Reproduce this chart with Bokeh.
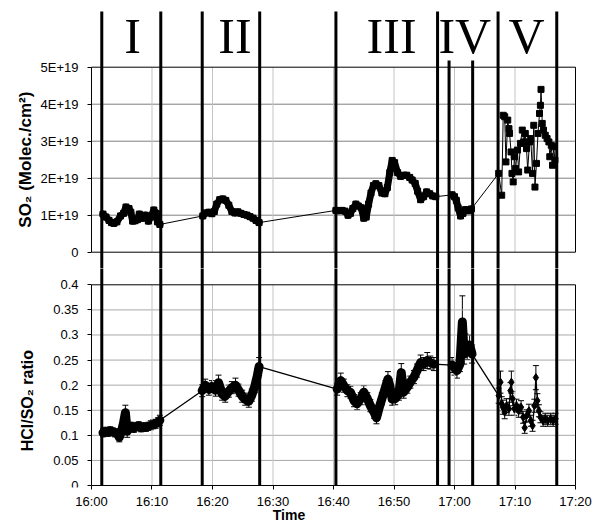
import numpy as np
from bokeh.plotting import figure
from bokeh.layouts import column
from bokeh.models import (ColumnDataSource, Range1d, FixedTicker, CustomJSTickFormatter,
                          Whisker, TeeHead, Label)
from bokeh.core.properties import value
from bokeh.embed import file_html
from bokeh.resources import INLINE

# ---------------- data (time = minutes after 16:00) ----------------
# SO2 column (units of 1E+19 molec/cm2)
so2_t_I = [1.9, 2.4, 2.9, 3.3, 3.7, 4.2, 4.8, 5.3, 5.7, 6.2, 6.5, 6.8, 7.2, 7.6, 7.9, 8.4, 8.9, 9.4, 9.8, 10.3, 10.7, 10.9, 11.3]
so2_I = [1.03, 0.95, 0.86, 0.80, 0.78, 0.82, 0.98, 1.05, 1.22, 1.18, 1.08, 0.84, 0.85, 0.88, 1.03, 0.92, 1.00, 0.84, 0.95, 1.14, 1.05, 0.82, 0.75]
so2_t_II = [18.4, 18.9, 19.4, 19.9, 20.3, 20.7, 21.2, 21.7, 22.2, 22.7, 23.2, 23.7, 24.2, 24.7, 25.2, 25.7, 26.2, 26.7, 27.2, 27.7]
so2_II = [0.98, 1.06, 1.08, 1.04, 1.10, 1.30, 1.42, 1.44, 1.40, 1.27, 1.10, 1.06, 1.09, 1.05, 1.02, 1.00, 0.96, 0.92, 0.86, 0.80]
so2_t_III = [40.4, 40.9, 41.4, 41.9, 42.4, 42.8, 43.2, 43.7, 44.1, 44.6, 45.0, 45.4, 45.8, 46.2, 46.6, 47.0, 47.5, 48.0, 48.5, 48.9,
             49.3, 49.7, 50.1, 50.6, 51.1, 51.6, 52.1, 52.6, 53.0, 53.5, 53.9, 54.4, 54.9, 55.4, 55.9, 56.4, 56.9]
so2_III = [1.13, 1.12, 1.13, 1.11, 1.00, 1.05, 1.18, 1.30, 1.25, 1.20, 0.92, 0.95, 1.30, 1.60, 1.80, 1.85, 1.80, 1.60, 1.58, 1.75,
           2.15, 2.48, 2.42, 2.15, 2.05, 2.08, 2.08, 2.02, 1.95, 1.86, 1.65, 1.42, 1.50, 1.63, 1.58, 1.52, 1.50]
so2_t_IV = [59.6, 60.0, 60.3, 60.6, 61.0, 61.4, 61.8, 62.3, 62.8]
so2_IV = [1.55, 1.50, 1.40, 1.20, 0.98, 1.05, 1.15, 1.12, 1.17]
so2_t_V = [67.3, 67.8, 68.05, 68.3, 68.5, 68.8, 69.0, 69.1, 69.35, 69.5, 69.7, 69.9, 70.1, 70.4, 70.6, 70.9, 71.2, 71.45, 71.7, 71.9,
           72.1, 72.4, 72.6, 72.9, 73.1, 73.3, 73.55, 73.8, 74.05, 74.2, 74.3, 74.5, 74.7, 75.0, 75.3, 75.6, 75.75, 76.0, 76.2, 76.4, 76.6]
so2_V = [2.13, 1.54, 3.70, 3.66, 2.44, 3.57, 3.34, 3.21, 2.71, 2.13, 1.90, 2.58, 2.26, 2.76, 2.17, 2.94, 3.30, 2.98, 3.21, 2.80,
         2.22, 2.98, 3.07, 2.13, 3.43, 1.76, 2.40, 3.21, 3.75, 3.97, 4.40, 3.48, 3.30, 3.16, 3.07, 2.98, 2.58, 2.89, 2.35, 2.85, 2.49]

# HCl/SO2 ratio with its error
ratio_t_I = [1.9, 2.3, 2.7, 3.1, 3.5, 3.9, 4.3, 4.6, 5.0, 5.3, 5.6, 5.9, 6.2, 6.6, 7.0, 7.4, 7.8, 8.2, 8.6, 9.0, 9.4, 9.8, 10.2, 10.6, 11.0, 11.3]
ratio_I = [0.105, 0.108, 0.106, 0.109, 0.107, 0.105, 0.104, 0.096, 0.110, 0.125, 0.145, 0.108, 0.116, 0.118, 0.114, 0.117, 0.119, 0.115, 0.117, 0.116, 0.118, 0.120, 0.122, 0.123, 0.126, 0.130]
ratio_err_I = [0.008, 0.008, 0.008, 0.008, 0.008, 0.008, 0.008, 0.009, 0.008, 0.010, 0.015, 0.012, 0.008, 0.008, 0.008, 0.008, 0.008, 0.008, 0.008, 0.008, 0.008, 0.009, 0.009, 0.009, 0.009, 0.010]
ratio_t_II = [18.3, 18.8, 19.4, 19.9, 20.5, 21.0, 21.6, 22.1, 22.7, 23.2, 23.8, 24.3, 24.9, 25.4, 26.0, 26.5, 27.0, 27.4, 27.7]
ratio_II = [0.189, 0.200, 0.192, 0.197, 0.190, 0.205, 0.182, 0.178, 0.188, 0.195, 0.200, 0.190, 0.178, 0.172, 0.168, 0.180, 0.198, 0.218, 0.237]
ratio_err_II = [0.012, 0.012, 0.012, 0.012, 0.012, 0.015, 0.012, 0.012, 0.012, 0.012, 0.014, 0.012, 0.012, 0.012, 0.012, 0.012, 0.013, 0.015, 0.018]
ratio_t_III = [40.6, 41.2, 41.7, 42.3, 42.8, 43.4, 43.9, 44.5, 45.0, 45.6, 46.1, 46.7, 47.1, 47.5, 48.0, 48.6,
               49.0, 49.3, 49.7, 50.2, 50.8, 51.2, 51.6, 52.2, 52.7, 53.3, 53.8, 54.4, 54.9, 55.5, 56.0, 56.6]
ratio_III = [0.192, 0.209, 0.199, 0.189, 0.186, 0.169, 0.163, 0.173, 0.186, 0.173, 0.159, 0.146, 0.135, 0.153, 0.173, 0.196,
             0.212, 0.199, 0.172, 0.173, 0.182, 0.225, 0.186, 0.196, 0.206, 0.216, 0.229, 0.245, 0.242, 0.249, 0.245, 0.242]
ratio_err_III = [0.012, 0.015, 0.013, 0.012, 0.012, 0.012, 0.012, 0.012, 0.013, 0.012, 0.012, 0.012, 0.012, 0.012, 0.012, 0.013,
                 0.015, 0.013, 0.012, 0.012, 0.012, 0.018, 0.012, 0.012, 0.012, 0.013, 0.013, 0.015, 0.013, 0.016, 0.013, 0.013]
ratio_t_IV = [59.6, 60.0, 60.4, 60.9, 61.3, 61.6, 61.8, 62.1, 62.5, 62.9]
ratio_IV = [0.240, 0.235, 0.229, 0.242, 0.326, 0.262, 0.282, 0.269, 0.280, 0.262]
ratio_err_IV = [0.015, 0.015, 0.015, 0.015, 0.052, 0.020, 0.020, 0.018, 0.020, 0.018]
ratio_t_V = [67.3, 67.6, 67.8, 68.0, 68.3, 68.6, 69.0, 69.25, 69.4, 69.6, 69.9, 70.25, 70.6, 71.0, 71.35, 71.6,
             71.9, 72.3, 72.6, 72.9, 73.2, 73.45, 73.7, 73.95, 74.2, 74.65, 75.0, 75.4, 75.9, 76.3, 76.7]
ratio_V = [0.179, 0.206, 0.163, 0.156, 0.146, 0.159, 0.153, 0.189, 0.206, 0.173, 0.153, 0.159, 0.149, 0.156, 0.136, 0.115,
           0.139, 0.149, 0.129, 0.119, 0.159, 0.215, 0.169, 0.149, 0.136, 0.129, 0.133, 0.129, 0.133, 0.129, 0.133]
ratio_err_V = [0.015, 0.022, 0.014, 0.014, 0.013, 0.014, 0.013, 0.016, 0.022, 0.014, 0.013, 0.013, 0.013, 0.013, 0.012, 0.011,
               0.012, 0.013, 0.011, 0.011, 0.013, 0.024, 0.014, 0.012, 0.011, 0.011, 0.011, 0.011, 0.011, 0.011, 0.011]

# phase boundaries (minutes after 16:00) and labels
phase_bounds = [1.7, 11.45, 18.3, 27.8, 40.4, 57.2, 59.1, 63.0, 67.2, 76.9]
short_bounds = [59.1, 63.0]
phase_names = ["I", "II", "III", "IV", "V"]
phase_label_t = [6.8, 23.7, 49.6, 61.7, 71.9]

time_ticks = [0, 10, 20, 30, 40, 50, 60, 70, 80]
so2_ticks = [0, 1e19, 2e19, 3e19, 4e19, 5e19]
ratio_ticks = [0, 0.05, 0.1, 0.15, 0.2, 0.25, 0.3, 0.35, 0.4]

# ---------------- assemble ----------------
E19 = 1e19
so2_segs_t = [so2_t_I, so2_t_II, so2_t_III, so2_t_IV]
so2_segs_v = [so2_I, so2_II, so2_III, so2_IV]
so2_t = so2_t_I + so2_t_II + so2_t_III + so2_t_IV + so2_t_V
so2_v = np.array(so2_I + so2_II + so2_III + so2_IV + so2_V) * E19

r_segs_t = [ratio_t_I, ratio_t_II, ratio_t_III, ratio_t_IV]
r_segs_v = [ratio_I, ratio_II, ratio_III, ratio_IV]
r_t = ratio_t_I + ratio_t_II + ratio_t_III + ratio_t_IV + ratio_t_V
r_v = np.array(ratio_I + ratio_II + ratio_III + ratio_IV + ratio_V)
r_e = np.array(ratio_err_I + ratio_err_II + ratio_err_III + ratio_err_IV + ratio_err_V)

FONT = "Liberation Sans"
X_RANGE = (-15.041, 80.33)     # frame spans the full width; 16:00 sits at x = 91 px
TOP_Y = (-4.405e18, 6.505e19)
BOT_Y = (-0.004, 0.4325)

time_fmt = CustomJSTickFormatter(code="""
const m = Math.round(tick); const h = 16 + Math.floor(m/60); const mm = m % 60;
return h + ':' + (mm < 10 ? '0' : '') + mm;""")


def style_yaxis(ax, ticks, fmt):
    ax.fixed_location = 0
    ax.ticker = FixedTicker(ticks=ticks)
    ax.formatter = fmt
    ax.axis_line_color = None
    ax.major_tick_in = 0
    ax.major_tick_out = 4
    ax.major_tick_line_color = "black"
    ax.minor_tick_line_color = None
    ax.major_label_standoff = 9
    ax.major_label_text_font = FONT
    ax.major_label_text_font_size = "13px"
    ax.major_label_text_color = "black"


# ---------------- top panel ----------------
p1 = figure(width=601, height=268, output_backend="svg", toolbar_location=None,
            x_range=Range1d(*X_RANGE), y_range=Range1d(*TOP_Y), x_axis_location=None,
            min_border_left=0, min_border_right=24, min_border_top=11, min_border_bottom=0)
p1.grid.visible = False
p1.outline_line_color = None
style_yaxis(p1.yaxis[0], so2_ticks,
            CustomJSTickFormatter(code="return tick == 0 ? '0' : Math.round(tick/1e19) + 'E+19';"))

g_h = so2_ticks[1:-1]
p1.segment(x0=[0] * len(g_h), x1=[80] * len(g_h), y0=g_h, y1=g_h, line_color="#808080", line_width=1)
g_v = time_ticks[1:-1]
p1.segment(x0=g_v, x1=g_v, y0=[0] * len(g_v), y1=[5e19] * len(g_v), line_color="#c4c4c4", line_width=1)
p1.quad(left=[0], right=[80], bottom=[0], top=[5e19], fill_color=None, line_color="black", line_width=1)

p1.line(so2_t, so2_v, line_color="black", line_width=1)
for st, sv in zip(so2_segs_t, so2_segs_v):
    p1.line(st, np.array(sv) * E19, line_color="black", line_width=7, line_join="round", line_cap="round")
p1.scatter(so2_t, so2_v, marker="square", size=6, color="black")

top_of_line = [5.18e19 if b in short_bounds else 7e19 for b in phase_bounds]
p1.segment(x0=phase_bounds, x1=phase_bounds, y0=top_of_line, y1=[-1e19] * len(phase_bounds),
           line_color="black", line_width=3)

p1.text(x=phase_label_t, y=[5.83e19] * len(phase_names), text=phase_names,
        text_font=value("Liberation Serif"), text_font_size="50px", text_align="center",
        text_baseline="alphabetic", text_color="black")

p1.add_layout(Label(x=-10.9, y=2.5e19, text="SO₂ (Molec./cm²)", angle=np.pi / 2,
                    text_align="center", text_baseline="middle", text_font=FONT,
                    text_font_size="17px", text_font_style="bold", text_color="black"))

# ---------------- bottom panel ----------------
p2 = figure(width=601, height=262, output_backend="svg", toolbar_location=None,
            x_range=Range1d(*X_RANGE), y_range=Range1d(*BOT_Y),
            min_border_left=0, min_border_right=24, min_border_top=0, min_border_bottom=43)
p2.grid.visible = False
p2.outline_line_color = None
style_yaxis(p2.yaxis[0], ratio_ticks,
            CustomJSTickFormatter(code="return String(Math.round(tick*100)/100);"))

xa = p2.xaxis[0]
xa.ticker = FixedTicker(ticks=time_ticks)
xa.formatter = time_fmt
xa.axis_line_color = None
xa.major_tick_in = 2
xa.major_tick_out = 2
xa.major_tick_line_color = "black"
xa.minor_tick_line_color = None
xa.major_label_standoff = 4
xa.major_label_text_font = FONT
xa.major_label_text_font_size = "13px"
xa.major_label_text_color = "black"
xa.axis_label = "Time"
xa.axis_label_standoff = -5
xa.axis_label_text_font = FONT
xa.axis_label_text_font_size = "14px"
xa.axis_label_text_font_style = "bold"
xa.axis_label_text_color = "black"

gr_h = ratio_ticks[1:-1]
p2.segment(x0=[0] * len(gr_h), x1=[80] * len(gr_h), y0=gr_h, y1=gr_h, line_color="#a8a8a8", line_width=1)
p2.segment(x0=g_v, x1=g_v, y0=[0] * len(g_v), y1=[0.4] * len(g_v), line_color="#c4c4c4", line_width=1)
p2.quad(left=[0], right=[80], bottom=[0], top=[0.4], fill_color=None, line_color="black", line_width=1)

src = ColumnDataSource(dict(t=r_t, r=r_v, lo=r_v - r_e, hi=r_v + r_e))
p2.add_layout(Whisker(source=src, base="t", lower="lo", upper="hi", line_color="black", line_width=1,
                      upper_head=TeeHead(size=6, line_color="black", line_width=1),
                      lower_head=TeeHead(size=6, line_color="black", line_width=1)))
p2.line("t", "r", source=src, line_color="black", line_width=1.3)
for st, sv in zip(r_segs_t, r_segs_v):
    p2.line(st, sv, line_color="black", line_width=9, line_join="round", line_cap="round")
p2.scatter("t", "r", source=src, marker="diamond", size=8, color="black")

p2.segment(x0=phase_bounds, x1=phase_bounds, y0=[0] * len(phase_bounds), y1=[0.5] * len(phase_bounds),
           line_color="black", line_width=3)

p2.add_layout(Label(x=-10.6, y=0.169, text="HCl/SO₂ ratio", angle=np.pi / 2,
                    text_align="center", text_baseline="middle", text_font=FONT,
                    text_font_size="16px", text_font_style="bold", text_color="black"))

layout = column(p1, p2, spacing=0)
open("out.html", "w").write(file_html(layout, INLINE))
